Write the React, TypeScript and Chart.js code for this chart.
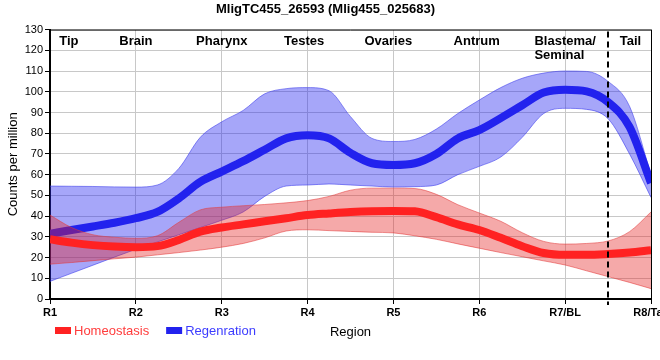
import React, { useEffect, useRef } from "react";
import { Chart, registerables } from "chart.js";

Chart.register(...registerables);

const chartTitle = "MligTC455_26593 (Mlig455_025683)";
const regionTicks = ["R1", "R2", "R3", "R4", "R5", "R6", "R7/BL", "R8/Tail"];
const regionNames = ["Tip", "Brain", "Pharynx", "Testes", "Ovaries", "Antrum", "Blastema/\nSeminal", "Tail"];
const regionNamePos = [1.22, 2, 3, 3.96, 4.94, 5.97, 7, 7.76];
const dividerPos = 7.5;

const samplePos = [1, 1.25, 1.5, 1.75, 2, 2.25, 2.5, 2.75, 3, 3.25, 3.5, 3.75, 4, 4.25, 4.5, 4.75, 5, 5.25, 5.5, 5.75, 6, 6.25, 6.5, 6.75, 7, 7.25, 7.5, 7.75, 8];

const regenMean = [31.5, 33.3, 35, 36.8, 39, 42, 48.5, 56.5, 61.5, 66.5, 72, 77.5, 79, 77.5, 70.5, 65.5, 64.7, 65.5, 70, 77.5, 81.5, 87.3, 93.5, 99.6, 101, 100.2, 95, 83, 56];
const regenUpper = [54.5, 54.4, 54.3, 54.1, 54, 55, 63, 78, 85.5, 91, 99, 101.5, 102, 100.5, 88, 77.5, 76, 77, 82, 89.5, 96, 102, 106.5, 109, 110, 109.8, 105, 93, 60];
const regenLower = [8.5, 12.4, 16.3, 20.2, 24, 27.5, 31, 34.5, 38, 42, 49.5, 54.5, 55, 55.5, 55, 54.5, 54, 54.2, 55, 60, 64, 68.5, 78, 89.5, 92, 91.5, 87, 70, 49];

const homeoMean = [28.8, 27.2, 26, 25.3, 25, 25.5, 28.5, 32.5, 34.5, 36, 37.5, 39, 40.5, 41.3, 42, 42.4, 42.5, 42.3, 39.5, 36, 33.3, 29.5, 25.5, 22.2, 21.3, 21.3, 21.7, 22.4, 23.5];
const homeoUpper = [40.5, 34.5, 31, 29.8, 29.3, 30.5, 37, 43, 44.3, 45, 45.6, 46.4, 47.5, 49.5, 52.5, 53.5, 53.5, 53.3, 50.5, 45.5, 41.5, 37.5, 32, 27.8, 26.5, 26.8, 28, 32.5, 42];
const homeoLower = [16.8, 17.6, 18.5, 19.4, 20.2, 21.3, 22.4, 23.6, 25, 26.8, 29.5, 32.8, 33.4, 33, 32.6, 32.2, 31.9, 30.5, 28.8, 26.6, 24.5, 22.4, 20.4, 18.4, 16.4, 13.6, 10.8, 8, 5];

const seriesNames = ["Homeostasis", "Regenration"];

const FONT = "'Liberation Sans', Arial, sans-serif";
const RED = "#ff2222";
const BLUE = "#2222ee";
const RED_FILL = "rgba(228,30,30,0.38)";
const BLUE_FILL = "rgba(40,40,240,0.41)";
const RED_EDGE = "rgba(225,60,60,0.55)";
const BLUE_EDGE = "rgba(70,70,235,0.6)";

const toPts = (ys: number[]) => ys.map((y, i) => ({ x: samplePos[i], y }));

const overlayPlugin = {
  id: "overlay",
  afterDatasetsDraw(chart: any) {
    const { ctx, chartArea, scales } = chart;
    const xs = scales.x;
    ctx.save();
    // frame top and right
    ctx.strokeStyle = "#000";
    ctx.lineWidth = 1;
    ctx.beginPath();
    ctx.moveTo(chartArea.left, chartArea.top + 0.5);
    ctx.lineTo(chartArea.right, chartArea.top + 0.5);
    ctx.moveTo(chartArea.right + 0.5, chartArea.top);
    ctx.lineTo(chartArea.right + 0.5, chartArea.bottom);
    ctx.stroke();
    // dashed divider
    const dx = Math.round(xs.getPixelForValue(dividerPos));
    ctx.setLineDash([6, 4]);
    ctx.lineWidth = 2;
    ctx.beginPath();
    ctx.moveTo(dx, chartArea.top + 2);
    ctx.lineTo(dx, chartArea.bottom + 6);
    ctx.stroke();
    ctx.setLineDash([]);
    // region names
    ctx.fillStyle = "#000";
    ctx.font = `bold 13px ${FONT}`;
    ctx.textBaseline = "alphabetic";
    regionNames.forEach((name, i) => {
      const lines = name.split("\n");
      const cx = xs.getPixelForValue(regionNamePos[i]);
      const w = ctx.measureText(lines[0]).width;
      const left = cx - w / 2;
      ctx.textAlign = "left";
      lines.forEach((ln, j) => {
        ctx.fillText(ln, left, chartArea.top + 15 + j * 14);
      });
    });
    ctx.restore();
  },
  afterDraw(chart: any) {
    const { ctx, chartArea } = chart;
    ctx.save();
    ctx.font = `13px ${FONT}`;
    ctx.textBaseline = "middle";
    ctx.textAlign = "left";
    const y = 330;
    let x = chartArea.left + 5;
    const cols = [RED, BLUE];
    const txtCols = ["#ff3c3c", "#3c3cff"];
    seriesNames.forEach((nm, i) => {
      ctx.fillStyle = cols[i];
      ctx.fillRect(x, y - 3, 16, 7);
      ctx.fillStyle = txtCols[i];
      ctx.fillText(nm, x + 19, y + 1);
      x += 19 + ctx.measureText(nm).width + 17;
    });
    ctx.restore();
  },
};

export default function App() {
  const ref = useRef<HTMLCanvasElement | null>(null);
  useEffect(() => {
    if (!ref.current) return;
    const band = (data: number[], color: string, edge: string, order: number, fill: any) => ({
      data: toPts(data),
      borderColor: edge,
      backgroundColor: color,
      borderWidth: 1,
      pointRadius: 0,
      cubicInterpolationMode: "monotone",
      fill,
      order,
    });
    const line = (data: number[], color: string, order: number) => ({
      data: toPts(data),
      borderColor: color,
      backgroundColor: color,
      borderWidth: 8,
      pointRadius: 0,
      cubicInterpolationMode: "monotone",
      borderCapStyle: "butt",
      fill: false,
      order,
    });
    const chart = new Chart(ref.current, {
      type: "line",
      data: {
        datasets: [
          band(regenLower, BLUE_FILL, BLUE_EDGE, 5, false) as any,
          band(regenUpper, BLUE_FILL, BLUE_EDGE, 4, 0) as any,
          line(regenMean, BLUE, 3) as any,
          band(homeoLower, RED_FILL, RED_EDGE, 2, false) as any,
          band(homeoUpper, RED_FILL, RED_EDGE, 1, 3) as any,
          line(homeoMean, RED, 0) as any,
        ],
      },
      options: {
        animation: false,
        responsive: true,
        maintainAspectRatio: false,
        layout: { padding: { left: 0, right: 9, top: 0, bottom: 20 } },
        plugins: {
          legend: { display: false },
          tooltip: { enabled: false },
          filler: { drawTime: "beforeDatasetDraw" } as any,
          title: {
            display: true,
            text: chartTitle,
            color: "#000",
            font: { family: FONT, size: 13, weight: "bold" },
            padding: { top: 2, bottom: 12 },
          },
        },
        scales: {
          x: {
            type: "linear",
            min: 1,
            max: 8,
            afterFit: (s: any) => {
              s.height = 41;
              s.paddingRight = 0;
            },
            ticks: {
              stepSize: 1,
              autoSkip: false,
              maxRotation: 0,
              padding: 2,
              color: "#000",
              font: { family: FONT, size: 11, weight: "bold" },
              callback: (v: any) => regionTicks[Math.round(Number(v)) - 1] ?? "",
            },
            grid: { color: "#c8c8c8", lineWidth: 1, tickLength: 5, tickColor: "#000" },
            border: { color: "#000", width: 2 },
            title: {
              display: true,
              text: "Region",
              color: "#000",
              font: { family: FONT, size: 13 },
              padding: { top: 0, bottom: 0 },
            },
          },
          y: {
            min: 0,
            max: 130,
            afterFit: (s: any) => {
              s.width = 50;
            },
            ticks: {
              stepSize: 10,
              padding: 2,
              color: "#000",
              font: { family: FONT, size: 11 },
            },
            grid: { color: "#c8c8c8", lineWidth: 1, tickLength: 5, tickColor: "#000" },
            border: { color: "#000", width: 2 },
            title: {
              display: true,
              text: "Counts per million",
              color: "#000",
              font: { family: FONT, size: 13 },
              padding: { top: 6, bottom: 0 },
            },
          },
        },
      },
      plugins: [overlayPlugin],
    });
    return () => chart.destroy();
  }, []);
  return (
    <div style={{ position: "fixed", left: 0, top: 0, width: 660, height: 360, background: "#fff" }}>
      <canvas ref={ref} />
    </div>
  );
}
